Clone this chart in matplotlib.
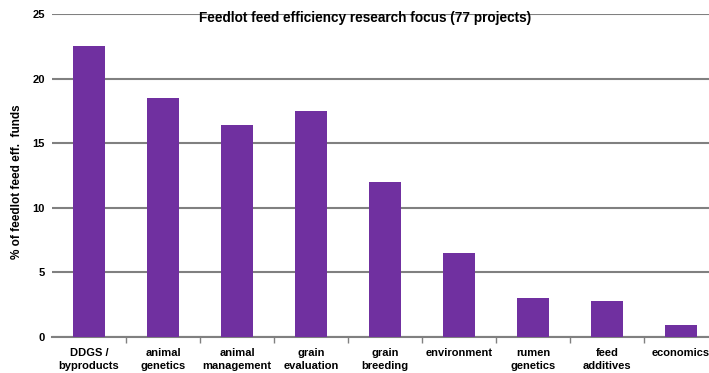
import matplotlib
matplotlib.use("Agg")
import matplotlib.pyplot as plt
import numpy as np

categories = ["DDGS /\nbyproducts", "animal\ngenetics", "animal\nmanagement",
              "grain\nevaluation", "grain\nbreeding", "environment",
              "rumen\ngenetics", "feed\nadditives", "economics"]
values = [22.5, 18.5, 16.4, 17.5, 12.0, 6.5, 3.0, 2.8, 0.9]
yticks = [0, 5, 10, 15, 20, 25]
title = "Feedlot feed efficiency research focus (77 projects)"
ylabel = "% of feedlot feed eff.  funds"

plt.rcParams['font.family'] = ['Liberation Sans', 'DejaVu Sans']

fig = plt.figure(figsize=(7.09, 3.73), dpi=100)
W, H = 709, 373
left, right, top, bottom = 52, 718, 14, 337
ax = fig.add_axes([left / W, 1 - bottom / H, (right - left) / W, (bottom - top) / H])

x = np.arange(len(categories))
ax.bar(x, values, width=0.42, color="#7030A0", zorder=3)

ax.set_xlim(-0.5, len(categories) - 0.5)
ax.set_ylim(0, 25)
ax.set_yticks(yticks)
ax.set_yticklabels([str(t) for t in yticks], fontsize=8, fontweight='bold')
ax.yaxis.grid(True, color="#808080", linewidth=1.5, zorder=0)
ax.tick_params(axis='y', length=0, pad=5)

ax.set_xticks(x)
ax.set_xticklabels(categories, fontsize=8, fontweight='bold', linespacing=1.3)
ax.tick_params(axis='x', which='major', length=0, pad=8)
ax.set_xticks(np.arange(0.5, len(categories) - 0.5), minor=True)
ax.tick_params(axis='x', which='minor', length=4, color="#808080", width=1)

for s in ['top', 'right', 'left']:
    ax.spines[s].set_visible(False)
ax.spines['bottom'].set_color("#808080")
ax.spines['bottom'].set_linewidth(1.5)

fig.text(17 / W, 1 - 182 / H, ylabel, rotation=90, ha='center', va='center',
         fontsize=8.5, fontweight='bold')
fig.text(365 / W, 1 - 18 / H, title, ha='center', va='center',
         fontsize=9.8, fontweight='bold', zorder=5)

fig.savefig("out.png", dpi=100)
